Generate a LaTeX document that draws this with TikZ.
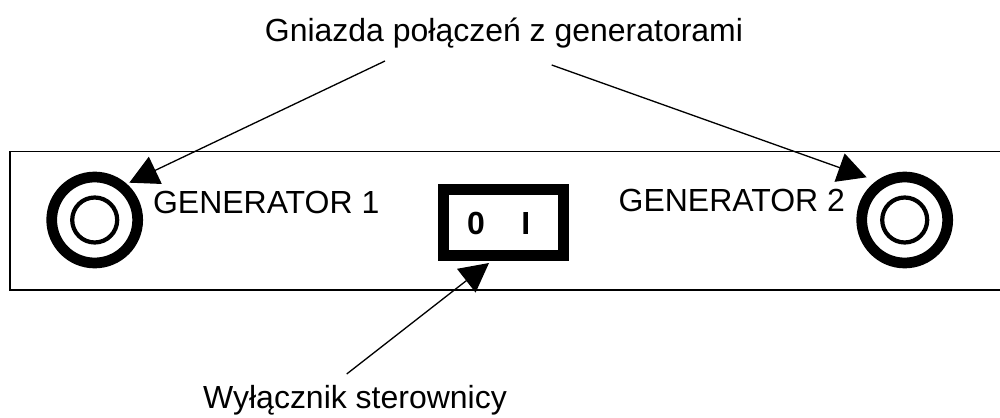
\documentclass[tikz,border=0pt]{standalone}
\usepackage{fontspec}
\setmainfont{Liberation Sans}
\usetikzlibrary{arrows.meta}
\begin{document}
\begin{tikzpicture}[x=0.02cm,y=-0.02cm,
  lbl/.style={inner sep=0pt, font=\fontsize{18.2}{21}\selectfont},
  swlbl/.style={inner sep=0pt, font=\fontsize{18.2}{21}\selectfont\bfseries},
  ring/.style={circle, draw, line width=6.1pt, minimum size=1.72cm, inner sep=0pt, outer sep=0pt},
  innerring/.style={circle, draw, line width=2.4pt, minimum size=0.9cm, inner sep=0pt},
  switchbox/.style={draw, line width=6.3pt, minimum width=2.4cm, minimum height=1.31cm, inner sep=0pt, outer sep=0pt},
  panel/.style={line width=1pt},
  pointer/.style={line width=0.75pt, -{Triangle[length=16.4pt, width=17pt]}}]
\useasboundingbox (0,0) rectangle (1000,418);
% panel
\draw[panel] (1000,151.5) -- (10,151.5) -- (10,290) -- (1000,290);
% sockets
\node[ring] (sockL) at (94.7,220) {};
\node[innerring] (sockLi) at (94.7,220) {};
\node[ring] (sockR) at (904.7,220) {};
\node[innerring] (sockRi) at (904.7,220) {};
% switch
\node[switchbox] (sw) at (503.1,222.4) {};
\node[swlbl, anchor=base] (sw0) at (476,234.3) {0};
\node[swlbl, anchor=base] (sw1) at (525.8,234.3) {I};
% labels
\node[lbl, anchor=base west] (gen1) at (152.7,213.3) {GENERATOR 1};
\node[lbl, anchor=base west] (gen2) at (618.3,211.7) {GENERATOR 2};
\node[lbl, anchor=base] (title) at (504,42) {Gniazda połączeń z generatorami};
\node[lbl, anchor=base] (wyl) at (355,408) {Wyłącznik sterownicy};
% connector ends
\coordinate (tailL) at (385,61);
\coordinate (tipL) at (129.3,182.7);
\coordinate (tailR) at (551.7,65);
\coordinate (tipR) at (866.7,177.3);
\coordinate (tailS) at (346.7,374);
\coordinate (tipS) at (489,263);
\draw[pointer] (tailL) -- (tipL);
\draw[pointer] (tailR) -- (tipR);
\draw[pointer] (tailS) -- (tipS);
\end{tikzpicture}
\end{document}
